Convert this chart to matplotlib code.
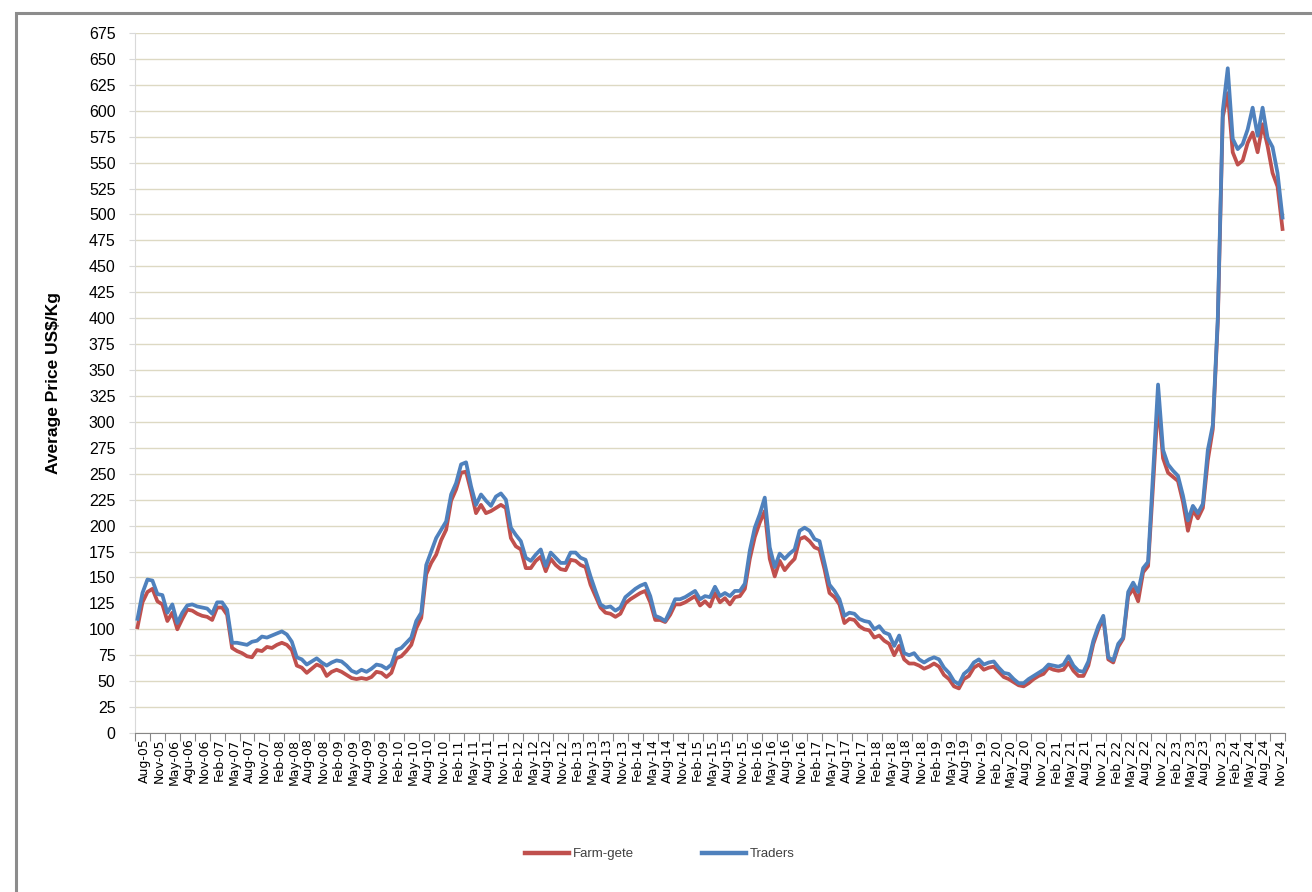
import matplotlib
matplotlib.use("Agg")
import matplotlib.pyplot as plt
from matplotlib.patches import Rectangle
from matplotlib.lines import Line2D

tick_labels = [
    "Aug-05", "Nov-05", "May-06", "Agu-06", "Nov-06",
    "Feb-07", "May-07", "Aug-07", "Nov-07",
    "Feb-08", "May-08", "Aug-08", "Nov-08",
    "Feb-09", "May-09", "Aug-09", "Nov-09",
    "Feb-10", "May-10", "Aug-10", "Nov-10",
    "Feb-11", "May-11", "Aug-11", "Nov-11",
    "Feb-12", "May-12", "Aug-12", "Nov-12",
    "Feb-13", "May-13", "Aug-13", "Nov-13",
    "Feb-14", "May-14", "Aug-14", "Nov-14",
    "Feb-15", "May-15", "Aug-15", "Nov-15",
    "Feb-16", "May-16", "Aug-16", "Nov-16",
    "Feb-17", "May-17", "Aug-17", "Nov-17",
    "Feb-18", "May-18", "Aug-18", "Nov-18",
    "Feb-19", "May-19", "Aug-19", "Nov-19",
    "Feb_20", "May_20", "Aug_20", "Nov_20",
    "Feb_21", "May_21", "Aug_21", "Nov_21",
    "Feb_22", "May_22", "Aug_22", "Nov_22",
    "Feb_23", "May_23", "Aug_23", "Nov_23",
    "Feb_24", "May_24", "Aug_24", "Nov_24",
]

farm_gate = [
    102, 126, 136, 139, 127, 124, 108, 116, 100, 110,
    119, 118, 115, 113, 112, 109, 121, 121, 114, 82,
    79, 77, 74, 73, 80, 79, 83, 82, 85, 87,
    85, 80, 65, 63, 58, 62, 66, 64, 55, 59,
    61, 59, 56, 53, 52, 53, 52, 54, 59, 58,
    54, 58, 72, 74, 79, 85, 101, 111, 153, 164,
    172, 186, 196, 224, 235, 251, 252, 233, 212, 220,
    212, 214, 217, 220, 217, 188, 180, 177, 159, 159,
    166, 170, 156, 168, 162, 158, 157, 167, 166, 162,
    160, 143, 132, 121, 116, 115, 112, 115, 125, 129,
    132, 135, 137, 126, 109, 109, 107, 114, 124, 124,
    126, 129, 132, 123, 127, 122, 135, 126, 130, 124,
    131, 132, 139, 168, 189, 203, 214, 168, 151, 166,
    157, 163, 168, 187, 189, 185, 179, 177, 158, 135,
    131, 124, 106, 110, 109, 103, 100, 99, 92, 94,
    89, 86, 75, 84, 71, 67, 67, 65, 62, 64,
    67, 64, 56, 52, 45, 43, 52, 55, 63, 66,
    61, 63, 64, 59, 54, 52, 49, 46, 45, 48,
    52, 55, 57, 63, 61, 60, 61, 68, 60, 55,
    55, 65, 86, 100, 111, 71, 68, 83, 91, 132,
    139, 127, 155, 161, 239, 320, 265, 251, 247, 243,
    223, 195, 215, 207, 217, 263, 293, 396, 594, 617,
    560, 548, 552, 569, 579, 560, 587, 566, 540, 527, 486,
]

traders = [
    110, 135, 148, 147, 134, 133, 116, 124, 106, 116,
    123, 124, 122, 121, 120, 115, 126, 126, 119, 87,
    87, 86, 85, 88, 89, 93, 92, 94, 96, 98,
    95, 88, 73, 71, 66, 69, 72, 68, 65, 68,
    70, 69, 65, 60, 58, 61, 59, 62, 66, 65,
    62, 66, 80, 82, 87, 92, 108, 116, 162, 175,
    188, 196, 204, 230, 241, 259, 261, 238, 220, 230,
    224, 219, 228, 231, 225, 198, 191, 185, 169, 166,
    172, 177, 161, 174, 169, 164, 164, 174, 174, 169,
    167, 151, 137, 124, 121, 122, 118, 121, 131, 135,
    139, 142, 144, 132, 113, 111, 108, 118, 129, 129,
    131, 134, 137, 129, 132, 131, 141, 132, 135, 132,
    137, 137, 144, 176, 198, 211, 227, 179, 160, 173,
    168, 173, 177, 195, 198, 195, 187, 185, 164, 143,
    137, 129, 113, 116, 115, 110, 108, 107, 100, 103,
    97, 95, 84, 94, 77, 75, 77, 71, 68, 71,
    73, 71, 63, 58, 50, 47, 57, 61, 68, 71,
    66, 68, 69, 63, 58, 57, 52, 48, 48, 52,
    55, 58, 61, 66, 65, 64, 66, 74, 65, 60,
    59, 69, 89, 103, 113, 73, 70, 86, 92, 136,
    145, 136, 159, 165, 251, 336, 273, 259, 253, 248,
    229, 205, 219, 212, 221, 273, 297, 400, 600, 641,
    573, 563, 568, 582, 603, 576, 603, 574, 565, 540, 497,
]

W, H = 1312, 892
fig = plt.figure(figsize=(W / 100, H / 100), dpi=100)
fig.patch.set_facecolor("white")

# outer chart-area frame (partially visible)
fig.add_artist(Rectangle((16 / W, -0.05), 1.2, (H - 13) / H + 0.05,
                         transform=fig.transFigure, fill=False,
                         edgecolor="#8c8c8c", linewidth=2.2))

ax = fig.add_axes([135 / W, 1 - 733 / H, (1285 - 135) / W, (733 - 33) / H])

n = len(traders)
x = list(range(n))
ax.plot(x, farm_gate, color="#C0504D", linewidth=2.7, solid_joinstyle="round",
        label="Farm-gete", zorder=3)
ax.plot(x, traders, color="#4F81BD", linewidth=2.7, solid_joinstyle="round",
        label="Traders", zorder=4)

ax.set_xlim(-0.5, n - 0.5)
ax.set_ylim(0, 675)
ax.set_yticks(range(0, 676, 25))
ax.grid(axis="y", color="#DDD9C3", linewidth=1.0)
ax.set_axisbelow(True)

ngroups = len(tick_labels)
ax.set_xticks([-0.5 + 3 * k for k in range(ngroups + 1)])
ax.set_xticklabels([])
ax.set_xticks([1.4 + 3 * k for k in range(ngroups)], minor=True)
ax.set_xticklabels(tick_labels, minor=True, rotation=90,
                   fontsize=9, family="DejaVu Sans")
ax.tick_params(axis="x", which="major", length=6, color="#868686", direction="out")
ax.tick_params(axis="x", which="minor", length=0, pad=4)
ax.tick_params(axis="y", length=4, color="#d9d9d9", labelsize=11.5, pad=10)
for lab in ax.get_yticklabels():
    lab.set_family("Liberation Sans")

for s in ["top", "right"]:
    ax.spines[s].set_visible(False)
ax.spines["left"].set_color("#d9d9d9")
ax.spines["bottom"].set_color("#868686")

ax.set_ylabel("Average Price US$/Kg", fontsize=12.5, fontweight="bold",
              family="Liberation Sans")
ax.yaxis.set_label_coords(-0.064, 0.5)

handles = [Line2D([], [], color="#C0504D", linewidth=3.2),
           Line2D([], [], color="#4F81BD", linewidth=3.2)]
leg = fig.legend(handles, ["Farm-gete", "Traders"], loc="center",
                 bbox_to_anchor=(660 / W, 1 - 854 / H), ncol=2, frameon=False,
                 handlelength=3.3, handletextpad=0.3, columnspacing=5.2,
                 prop={"family": "Liberation Sans", "size": 9.5})
for t in leg.get_texts():
    t.set_color("#404040")

fig.savefig("out.png", dpi=100, facecolor="white")
